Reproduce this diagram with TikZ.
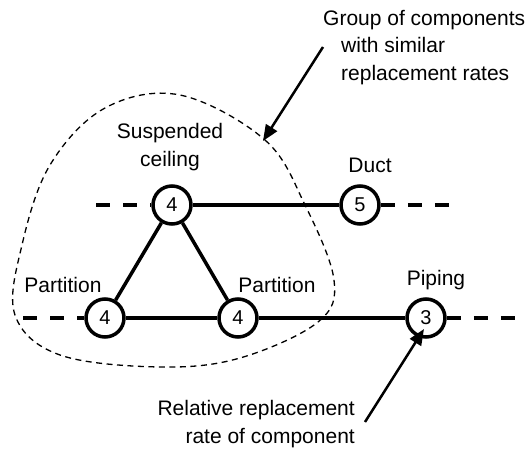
\documentclass[tikz,border=0pt]{standalone}
\usepackage{fontspec}
\setmainfont{Liberation Sans}
\usetikzlibrary{arrows.meta}
\begin{document}
\begin{tikzpicture}[x=1pt,y=-1pt,
    comp/.style={draw,circle,line width=3.5pt,minimum size=38pt,inner sep=0pt,
      font=\fontsize{20}{24}\selectfont},
    lbl/.style={font=\fontsize{21}{28}\selectfont,inner sep=0pt},
    link/.style={line width=3.5pt},
    open/.style={line width=3.5pt,dash pattern=on 14pt off 13pt},
    pointer/.style={line width=2.5pt,-{Triangle[length=16pt,width=13pt]}}]
  \useasboundingbox (0,0) rectangle (528,450);
  \draw
    (172,205) node[comp] (ceil){4}
    (360,205) node[comp] (duct){5}
    (105,318) node[comp] (partL){4}
    (238,318) node[comp] (partR){4}
    (426,318) node[comp] (pipe){3};
  % component names
  \node[lbl,align=center,anchor=base] (ceilname) at (170,166) {Suspended\\ceiling};
  \node[lbl,anchor=base] (ductname) at (370,172) {Duct};
  \node[lbl,anchor=base] (partLname) at (63,292) {Partition};
  \node[lbl,anchor=base] (partRname) at (277,292) {Partition};
  \node[lbl,anchor=base] (pipename) at (436,285) {Piping};
  % open ends of the chains
  \coordinate (tl) at (96,205);
  \coordinate (tr) at (452,205);
  \coordinate (bl) at (23,318);
  \coordinate (br) at (520,318);
  \begin{scope}[link]
    \draw (ceil) to (duct);
    \draw (ceil) to (partL);
    \draw (ceil) to (partR);
    \draw (partL) to (partR);
    \draw (partR) to (pipe);
  \end{scope}
  \begin{scope}[open]
    \draw (tl) to (ceil);
    \draw (duct) to (tr);
    \draw (bl) to (partL);
    \draw (pipe) to (br);
  \end{scope}
  % group outline
  \draw[line width=1.3pt,dash pattern=on 6pt off 4.5pt]
    plot[smooth cycle,tension=0.6] coordinates {(180,95) (265,140) (305,205)
      (334,280) (318,322) (240,358) (160,367) (60,355) (15,315) (22,245)
      (50,165) (105,108)};
  % notes
  \node[lbl,anchor=base west] (groupnote) at (323,25) {Group of components};
  \node[lbl,anchor=base west,align=left] (groupnote2) at (341,80) {with similar\\replacement rates};
  \node[lbl,anchor=base east,align=right] (ratenote) at (355,443) {Relative replacement\\rate of component};
  \coordinate (groupfoot) at (323,47);
  \coordinate (ratefoot) at (365,422);
  \coordinate (grouptip) at (263,141);
  \draw[pointer] (groupfoot) -- (grouptip);
  \draw[pointer] (ratefoot) -- (424,329);
\end{tikzpicture}
\end{document}
